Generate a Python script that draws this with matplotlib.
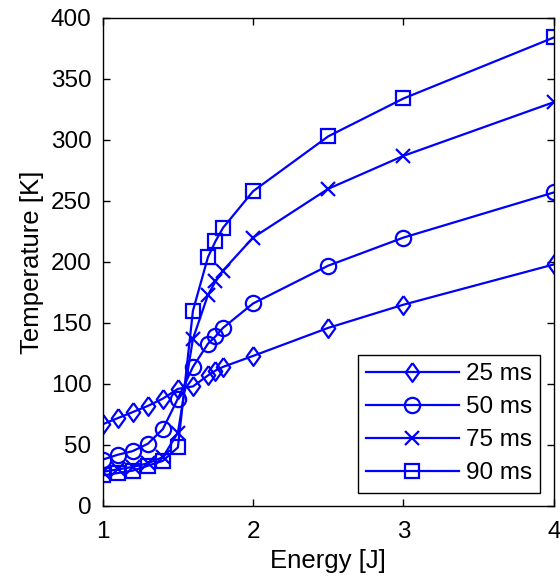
import matplotlib
matplotlib.use("Agg")
import matplotlib.pyplot as plt

plt.rcParams['font.family'] = ['Liberation Sans', 'DejaVu Sans']

energy = [1.0, 1.1, 1.2, 1.3, 1.4, 1.5, 1.6, 1.7, 1.75, 1.8, 2.0, 2.5, 3.0, 4.0]
t25 = [67, 72, 77, 82, 88, 96, 98, 107, 111, 114, 123, 146, 165, 198]
t50 = [38, 42, 45, 51, 63, 88, 114, 133, 139, 146, 166, 197, 220, 257]
t75 = [28, 30, 32, 35, 40, 60, 137, 173, 184, 193, 220, 260, 287, 331]
t90 = [25, 27, 29, 33, 37, 48, 160, 204, 217, 228, 258, 303, 334, 384]
labels = ['25 ms', '50 ms', '75 ms', '90 ms']

diamond = [(0, 1), (0.72, 0), (0, -1), (-0.72, 0), (0, 1)]
markers = [diamond, 'o', 'x', 's']
msizes = [13.5, 11, 10, 9.5]

fig = plt.figure(figsize=(5.6, 5.78), dpi=100)
ax = fig.add_axes([0.1834, 0.1246, 0.8056, 0.8443])

for ys, lab, m, ms in zip([t25, t50, t75, t90], labels, markers, msizes):
    ax.plot(energy, ys, color='#0000ff', lw=1.6, marker=m, ms=ms,
            mfc='none', mec='#0000ff', mew=1.6, label=lab)

ax.set_xlim(1, 4)
ax.set_ylim(0, 400)
ax.set_xticks([1, 2, 3, 4])
ax.set_yticks(range(0, 401, 50))
ax.tick_params(direction='in', top=True, right=True, labelsize=17.5, length=5, width=1)
ax.tick_params(axis='x', pad=11)
ax.tick_params(axis='y', pad=8)
for s in ax.spines.values():
    s.set_linewidth(1)
ax.set_xlabel('Energy [J]', fontsize=18.5, labelpad=4)
ax.set_ylabel('Temperature [K]', fontsize=18.5, labelpad=5)

leg = ax.legend(loc='lower right', fontsize=17.5, frameon=True, fancybox=False,
                edgecolor='black', framealpha=1, handlelength=3.8,
                borderaxespad=0.55, labelspacing=0.45, handletextpad=0.3,
                borderpad=0.35)
leg.get_frame().set_linewidth(1)

fig.savefig('out.png', dpi=100)
